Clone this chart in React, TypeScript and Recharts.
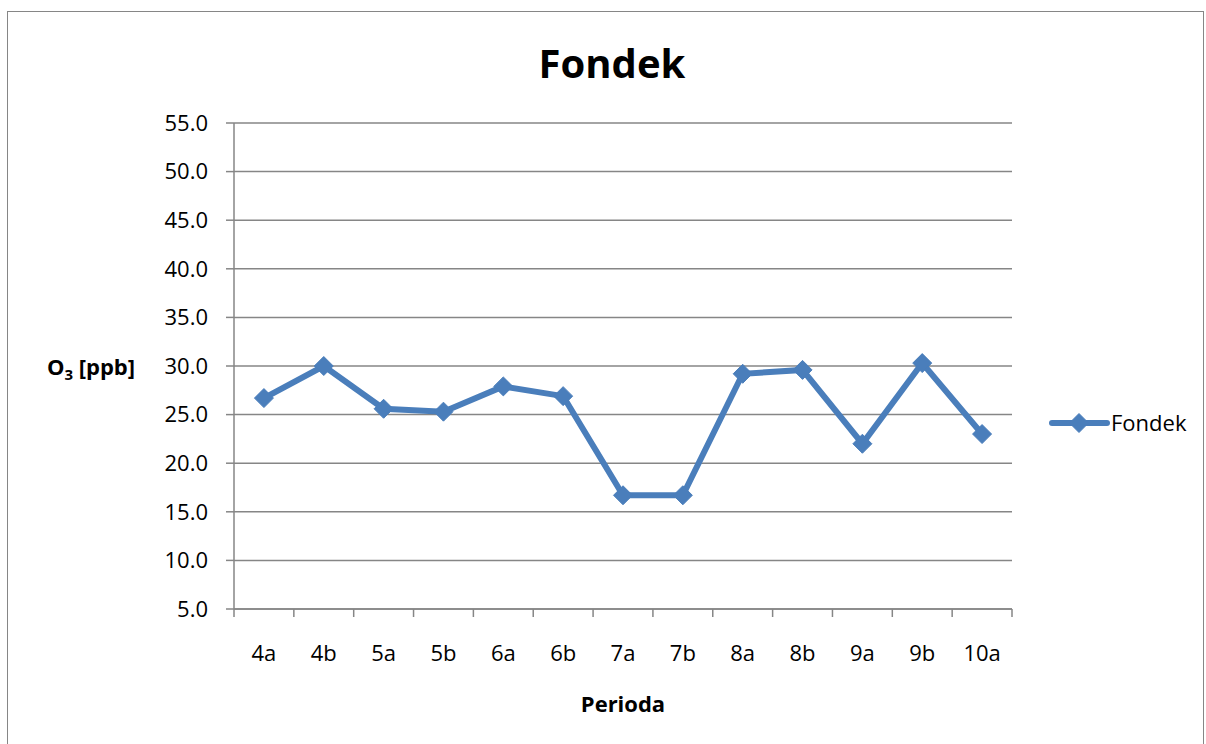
import React from "react";
import { LineChart, Line, XAxis, YAxis, CartesianGrid } from "recharts";

const periods = ["4a", "4b", "5a", "5b", "6a", "6b", "7a", "7b", "8a", "8b", "9a", "9b", "10a"];
const fondek = [26.7, 30.0, 25.6, 25.3, 27.9, 26.9, 16.7, 16.7, 29.2, 29.6, 22.0, 30.3, 23.0];
const yTicks = [5, 10, 15, 20, 25, 30, 35, 40, 45, 50, 55];

const data = periods.map((p, i) => ({ period: p, Fondek: fondek[i] }));

const W = 1206;
const H = 744;
const LEFT = 234;
const RIGHT = 1012;
const TOP = 123;
const BOTTOM = 609;
const HALF = (RIGHT - LEFT) / periods.length / 2;

const BLUE = "#4a7ebb";
const GRAY = "#868686";
const FONT = "'Open Sans', 'DejaVu Sans', sans-serif";

const Diamond = (props: any) => {
  const { cx, cy } = props;
  if (cx == null || cy == null) return null;
  const r = 9.5;
  return (
    <path
      d={`M${cx},${cy - r} L${cx + r},${cy} L${cx},${cy + r} L${cx - r},${cy} Z`}
      fill={BLUE}
      stroke={BLUE}
      strokeWidth={1}
      strokeLinejoin="round"
    />
  );
};

const XTick = (props: any) => {
  const { x, payload, index } = props;
  const last = index === periods.length - 1;
  return (
    <g>
      <line x1={x - HALF} x2={x - HALF} y1={BOTTOM} y2={BOTTOM + 8} stroke={GRAY} strokeWidth={1.5} />
      {last && (
        <line x1={x + HALF} x2={x + HALF} y1={BOTTOM} y2={BOTTOM + 8} stroke={GRAY} strokeWidth={1.5} />
      )}
      <text x={x} y={661} textAnchor="middle" fontFamily={FONT} fontSize={22} fill="#000">
        {payload.value}
      </text>
    </g>
  );
};

export default function App() {
  return (
    <div style={{ position: "absolute", left: 0, top: 0, width: W, height: H, overflow: "hidden", background: "#fff" }}>
      <div
        style={{
          position: "absolute",
          left: 7,
          top: 11,
          width: 1197,
          height: 800,
          border: `1.5px solid ${GRAY}`,
          boxSizing: "border-box",
        }}
      />
      <div style={{ position: "absolute", left: 0, top: 0 }}>
        <LineChart width={W} height={H} data={data} margin={{ top: TOP, right: W - RIGHT, bottom: 0, left: 0 }}>
          <CartesianGrid vertical={false} stroke={GRAY} strokeWidth={1.5} />
          <XAxis
            dataKey="period"
            height={H - BOTTOM}
            padding={{ left: HALF, right: HALF }}
            axisLine={{ stroke: GRAY, strokeWidth: 1.5 }}
            tickLine={false}
            tick={<XTick />}
            interval={0}
          />
          <YAxis
            width={LEFT}
            domain={[5, 55]}
            ticks={yTicks}
            interval={0}
            tickFormatter={(v: number) => v.toFixed(1)}
            axisLine={{ stroke: GRAY, strokeWidth: 1.5 }}
            tickLine={{ stroke: GRAY, strokeWidth: 1.5 }}
            tickSize={8}
            tickMargin={18}
            tick={{ fontFamily: FONT, fontSize: 22, fill: "#000" }}
          />
          <Line
            type="linear"
            dataKey="Fondek"
            stroke={BLUE}
            strokeWidth={6}
            dot={<Diamond />}
            activeDot={false}
            isAnimationActive={false}
          />
        </LineChart>
      </div>
      <svg width={W} height={H} style={{ position: "absolute", left: 0, top: 0, pointerEvents: "none" }}>
        <text x={612} y={78} textAnchor="middle" fontFamily={FONT} fontWeight={700} fontSize={40} fill="#000">
          Fondek
        </text>
        <text x={91} y={375} textAnchor="middle" fontFamily={FONT} fontWeight={700} fontSize={22} fill="#000">
          O<tspan fontSize={15} dy={5}>3</tspan>
          <tspan dy={-5}> [ppb]</tspan>
        </text>
        <text x={623} y={712} textAnchor="middle" fontFamily={FONT} fontWeight={700} fontSize={22} fill="#000">
          Perioda
        </text>
        <line x1={1052} x2={1107} y1={423} y2={423} stroke={BLUE} strokeWidth={6} strokeLinecap="round" />
        <Diamond cx={1079} cy={423} />
        <text x={1111} y={431} fontFamily={FONT} fontSize={22} fill="#000">
          Fondek
        </text>
      </svg>
    </div>
  );
}
